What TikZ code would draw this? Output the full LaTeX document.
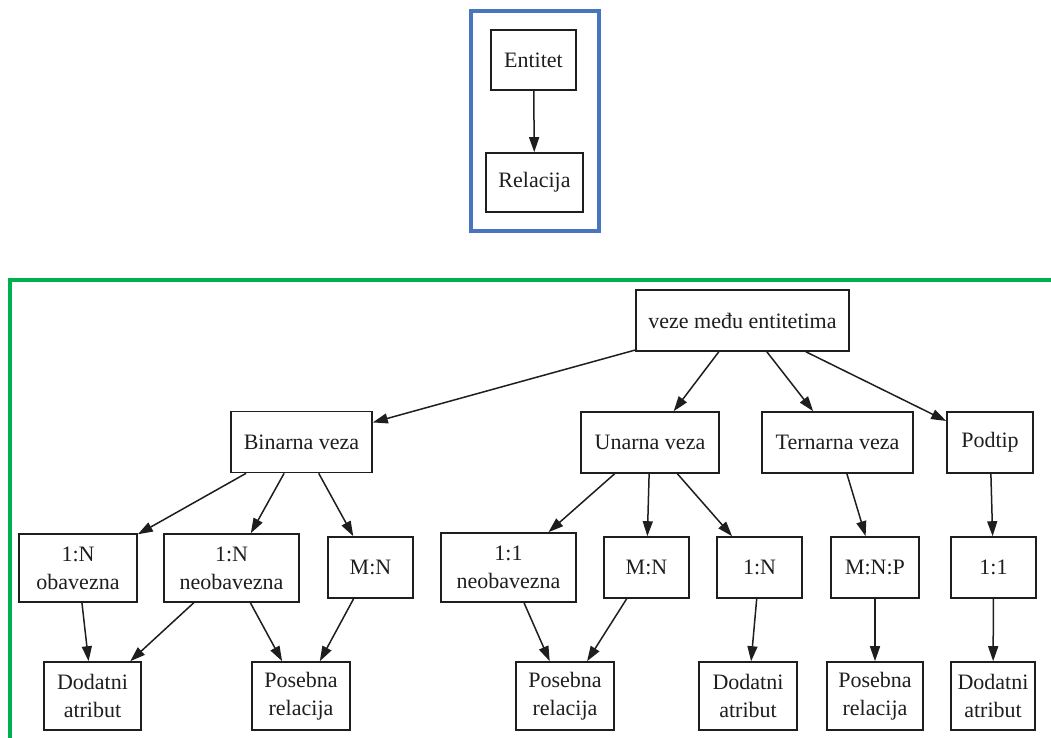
\documentclass[tikz,border=0pt]{standalone}
\usepackage{fontspec}
\setmainfont{Liberation Serif}
\usetikzlibrary{arrows.meta}
\definecolor{frameblue}{RGB}{72,118,190}
\definecolor{framegreen}{RGB}{0,176,80}
\definecolor{inkgray}{RGB}{30,30,30}
\begin{document}
\begin{tikzpicture}[x=1pt,y=-1pt,
  box/.style={draw=inkgray, line width=1.6pt, inner sep=0pt, align=center,
    font=\fontsize{22}{28}\selectfont, text=inkgray,
    minimum height=61pt},
  tall/.style={box, minimum height=68pt},
  edge/.style={draw=inkgray, line width=1.5pt, -{Triangle[length=15pt,width=10pt]}}]
\useasboundingbox (0,0) rectangle (1051,738);
% frames
\draw[frameblue, line width=4pt] (471,11) rectangle (599,231);
\draw[framegreen, line width=4pt] (10,738) -- (10,280) -- (1051,280);
% top legend
\node[box, minimum width=85pt, minimum height=60pt] (ent) at (533.5,60) {Entitet};
\node[box, minimum width=97pt, minimum height=59pt] (rel) at (534.5,182.5) {Relacija};
\draw[edge] (ent) -- (rel);
% tree
\node[box, minimum width=213pt] (root) at (742.5,320.5) {veze među entitetima};
\node[box, minimum width=141pt] (bin) at (301.5,442) {Binarna veza};
\node[box, minimum width=138pt] (una) at (650,442.5) {Unarna veza};
\node[box, minimum width=151pt] (ter) at (837.5,442.5) {Ternarna veza};
\node[box, minimum width=86pt] (pod) at (990,442.5) {Podtip};
\node[tall, minimum width=118pt] (bob) at (78,568) {1:N\\obavezna};
\node[tall, minimum width=135pt] (bneo) at (231.5,568) {1:N\\neobavezna};
\node[box, minimum width=85pt] (bmn) at (370.5,567.5) {M:N};
\node[tall, minimum width=135pt, minimum height=69pt] (uneo) at (508.5,567.5) {1:1\\neobavezna};
\node[box, minimum width=85pt] (umn) at (646.5,567.5) {M:N};
\node[box, minimum width=85pt] (u1n) at (759.5,567.5) {1:N};
\node[box, minimum width=88pt] (tmnp) at (875,567.5) {M:N:P};
\node[box, minimum width=85pt] (p11) at (993.5,567.5) {1:1};
\node[tall, minimum width=97pt] (bda) at (92.5,696) {Dodatni\\atribut};
\node[tall, minimum width=98pt] (bpr) at (301,696) {Posebna\\relacija};
\node[tall, minimum width=98pt] (upr) at (565,696) {Posebna\\relacija};
\node[tall, minimum width=98pt] (uda) at (748,696) {Dodatni\\atribut};
\node[tall, minimum width=96pt] (tpr) at (875,696) {Posebna\\relacija};
\node[tall, minimum width=84pt] (pda) at (993,696) {Dodatni\\atribut};
% edges
\draw[edge] (root) -- (bin);
\draw[edge] (root) -- (una);
\draw[edge] (root) -- (ter);
\draw[edge] (root) -- (pod);
\draw[edge] (bin) -- (bob);
\draw[edge] (bin) -- (bneo);
\draw[edge] (bin) -- (bmn);
\draw[edge] (bob) -- (bda);
\draw[edge] (bneo) -- (bda);
\draw[edge] (bneo) -- (bpr);
\draw[edge] (bmn) -- (bpr);
\draw[edge] (una) -- (uneo);
\draw[edge] (una) -- (umn);
\draw[edge] (una) -- (u1n);
\draw[edge] (uneo) -- (upr);
\draw[edge] (umn) -- (upr);
\draw[edge] (u1n) -- (uda);
\draw[edge] (ter) -- (tmnp);
\draw[edge] (tmnp) -- (tpr);
\draw[edge] (pod) -- (p11);
\draw[edge] (p11) -- (pda);
\end{tikzpicture}
\end{document}
